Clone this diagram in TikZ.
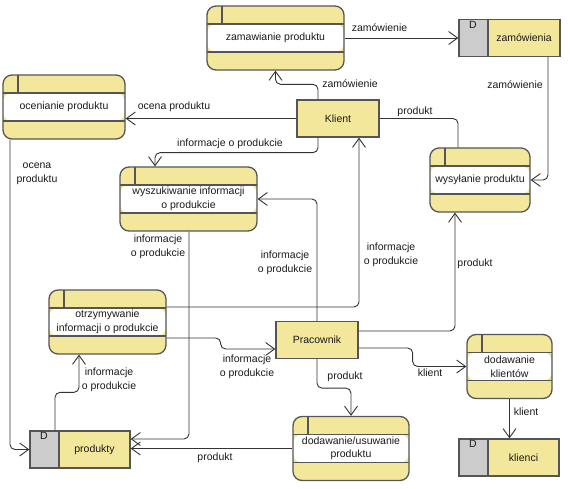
\documentclass[tikz,border=0pt]{standalone}
\usepackage{fontspec}
\setmainfont{Liberation Sans}
\usetikzlibrary{arrows.meta,calc}
\definecolor{yel}{HTML}{F3E79B}
\definecolor{grayst}{HTML}{CCCCCC}
\definecolor{bd}{HTML}{555555}
\definecolor{ln}{HTML}{333333}
\definecolor{txt}{HTML}{1A1A1A}
\begin{document}
\begin{tikzpicture}[x=1pt,y=-1pt,
  font=\fontsize{10.5}{13.5}\selectfont, text=txt,
  proc/.style={draw=bd, fill=yel, line width=1.3pt, rounded corners=9pt,
    minimum height=64pt, inner sep=0pt, align=center,
    path picture={
      \fill[white] ([yshift=-18pt]path picture bounding box.north west) rectangle ([yshift=-46pt]path picture bounding box.north east);
      \draw[bd,line width=1.3pt,sharp corners]
        ([yshift=-18pt]path picture bounding box.north west) -- ([yshift=-18pt]path picture bounding box.north east)
        ([yshift=-46pt]path picture bounding box.north west) -- ([yshift=-46pt]path picture bounding box.north east)
        ([xshift=15pt]path picture bounding box.north west) -- ([xshift=15pt,yshift=-18pt]path picture bounding box.north west);}},
  ent/.style={draw=bd, fill=yel, line width=1.3pt, minimum width=82pt, minimum height=37pt, inner sep=0pt},
  store/.style={draw=bd, fill=yel, line width=1.3pt, minimum width=100pt, minimum height=37pt, inner sep=0pt,
    path picture={
      \fill[grayst] (path picture bounding box.north west) rectangle ([xshift=29pt]path picture bounding box.south west);
      \draw[bd,line width=1.3pt] ([xshift=29pt]path picture bounding box.north west) -- ([xshift=29pt]path picture bounding box.south west);}},
  dlab/.style={inner sep=0pt},
  lab/.style={inner sep=0pt, align=center},
  flow/.style={draw=ln, line width=0.9pt, rounded corners=5pt, -{Straight Barb[length=9pt,width=13pt,line width=0.9pt]}},
  plain/.style={draw=ln, line width=0.9pt, rounded corners=5pt}
]
\useasboundingbox (0,0) rectangle (570,489);

% processes
\node[proc, minimum width=137pt] (zam) at (275.5,38) {zamawianie produktu};
\node[proc, minimum width=122pt] (ocen) at (64,107) {ocenianie produktu};
\node[proc, minimum width=137pt] (wysz) at (188.5,199) {wyszukiwanie informacji\\o produkcie};
\node[proc, minimum width=100pt] (wysy) at (480,180) {wysyłanie produktu};
\node[proc, minimum width=117pt] (otrz) at (107.5,322) {otrzymywanie\\informacji o produkcie};
\node[proc, minimum width=85pt] (dodk) at (509.5,366.5) {dodawanie\\klientów};
\node[proc, minimum width=116pt] (dodu) at (351,448.5) {dodawanie/usuwanie\\produktu};

% entities
\node[ent] (kl) at (338,118.5) {Klient};
\node[ent] (pr) at (317,340) {Pracownik};

% stores
\node[store, minimum width=101pt] (zst) at (509.5,38) {\hspace*{29pt}\makebox[72pt]{zamówienia}};
\node[store] (pst) at (80,449.5) {\hspace*{29pt}\makebox[71pt]{produkty}};
\node[store] (kst) at (509,457.5) {\hspace*{29pt}\makebox[71pt]{klienci}};
\node[dlab] (zstD) at ([xshift=14.5pt,yshift=-6pt]zst.north west) {D};
\node[dlab] (pstD) at ([xshift=14.5pt,yshift=-6pt]pst.north west) {D};
\node[dlab] (kstD) at ([xshift=14.5pt,yshift=-6pt]kst.north west) {D};

% connectors
\draw[flow] (zam.east) -- (zst.west);
\draw[flow] ([xshift=-20pt]kl.north) -- ++(0,-15) -| (zam.south);
\draw[flow] (kl.west) -- (kl.west -| ocen.east);
\draw[flow] ([xshift=-20pt]kl.south) -- ++(0,15) -| ([xshift=-33.5pt]wysz.north);
\draw[plain] (kl.east) -| ([xshift=-22pt]wysy.north);
\draw[flow] ([xshift=38.5pt]zst.south) |- (wysy.east);
\draw[flow] (pr.north) |- (wysz.east);
\draw[flow] ([yshift=15pt]otrz.east) -| ([xshift=21pt]kl.south);
\draw[flow] ([yshift=9pt]pr.east) -| ([xshift=-25pt]wysy.south);
\draw[flow] ([yshift=-16pt]otrz.east) -- ++(54,0) |- ([yshift=-9pt]pr.west);
\draw[flow] ([xshift=-25pt]pst.north) -- ++(0,-38) -| ([xshift=-28.5pt]otrz.south);
\draw[flow] ([xshift=-54pt]ocen.south) |- (pst.west);
\draw[flow] ([xshift=0.5pt]wysz.south) |- ([yshift=10.5pt]pst.east);
\draw[flow] (dodu.west) -- (dodu.west -| pst.east);
\draw[flow] (pr.south) -- ++(0,29) -| (dodu.north);
\draw[flow] ([yshift=-8pt]pr.east) -- ++(54,0) |- (dodk.west);
\draw[flow] (dodk.south) -- (dodk.south |- kst.north);

% labels
\node[lab] (l1) at (379.5,28) {zamówienie};
\node[lab] (l2) at (350,84) {zamówienie};
\node[lab] (l3) at (174,107) {ocena produktu};
\node[lab] (l4) at (230,144) {informacje o produkcie};
\node[lab] (l5) at (415,112) {produkt};
\node[lab] (l6) at (515,85) {zamówienie};
\node[lab] (l7) at (37,174) {ocena\\produktu};
\node[lab] (l8) at (158,247) {informacje\\o produkcie};
\node[lab] (l9) at (285,263) {informacje\\o produkcie};
\node[lab] (l10) at (391,255) {informacje\\o produkcie};
\node[lab] (l11) at (475,264) {produkt};
\node[lab] (l12) at (247,367) {informacje\\o produkcie};
\node[lab] (l13) at (109,380) {informacje\\o produkcie};
\node[lab] (l14) at (215,458) {produkt};
\node[lab] (l15) at (345,377) {produkt};
\node[lab] (l16) at (430,373) {klient};
\node[lab] (l17) at (526,412) {klient};
\end{tikzpicture}
\end{document}
